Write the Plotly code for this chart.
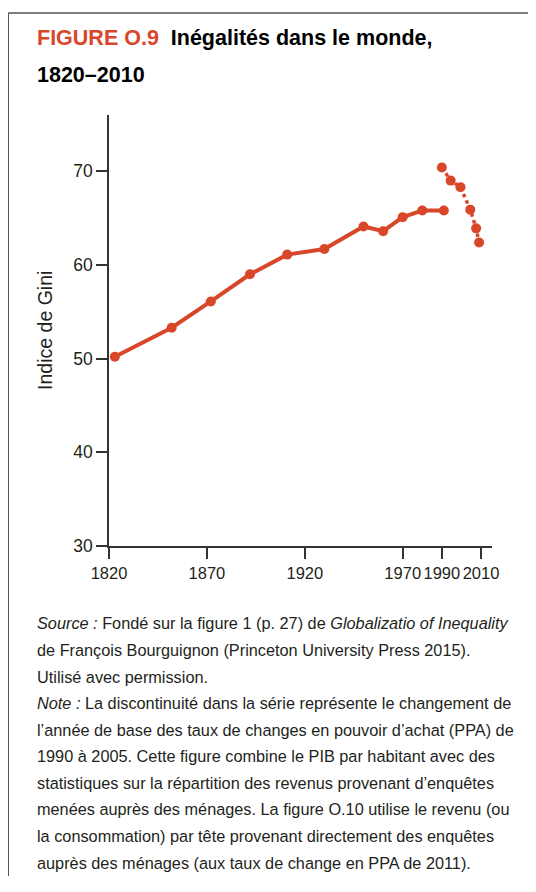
import plotly.graph_objects as go

# ---- data ----
years_a = [1823, 1852, 1872, 1892, 1911, 1930, 1950, 1960, 1970, 1980, 1991]
gini_a = [50.2, 53.3, 56.1, 59.0, 61.1, 61.7, 64.1, 63.6, 65.1, 65.8, 65.8]
years_b = [1990, 1994.5, 1999.5, 2004.5, 2007.5, 2009]
gini_b = [70.4, 69.0, 68.3, 65.9, 63.9, 62.4]
x_ticks = [1820, 1870, 1920, 1970, 1990, 2010]
y_ticks = [30, 40, 50, 60, 70]

title_red = "FIGURE O.9"
title_black_1 = "Inégalités dans le monde,"
title_black_2 = "1820–2010"
y_label = "Indice de Gini"
notes = [
    "<i>Source :</i> Fondé sur la figure 1 (p. 27) de <i>Globalizatio of Inequality</i>",
    "de François Bourguignon (Princeton University Press 2015).",
    "Utilisé avec permission.",
    "<i>Note :</i> La discontinuité dans la série représente le changement de",
    "l’année de base des taux de changes en pouvoir d’achat (PPA) de",
    "1990 à 2005. Cette figure combine le PIB par habitant avec des",
    "statistiques sur la répartition des revenus provenant d’enquêtes",
    "menées auprès des ménages. La figure O.10 utilise le revenu (ou",
    "la consommation) par tête provenant directement des enquêtes",
    "auprès des ménages (aux taux de change en PPA de 2011).",
]

RED = "#D9472B"
INK = "#231F20"
FONT = "Liberation Sans, Arial, sans-serif"

# page offset of the plotly div (body margin)
OFF = 8
W, H = 528, 868
# plot area in reference page pixels
L, R, T, B = 109.3 - OFF, 491.7 - OFF, 114.7 - OFF, 545.7 - OFF


def px(x):
    return (x - OFF - L) / (R - L)


def py(y):
    return (B - (y - OFF)) / (B - T)


fig = go.Figure()
fig.add_trace(go.Scatter(
    x=years_a, y=gini_a, mode="lines+markers",
    line=dict(color=RED, width=4), marker=dict(color=RED, size=10),
    hoverinfo="x+y", showlegend=False, cliponaxis=False,
))
fig.add_trace(go.Scatter(
    x=years_b, y=gini_b, mode="lines+markers",
    line=dict(color=RED, width=3.5, dash="dot"), marker=dict(color=RED, size=10),
    hoverinfo="x+y", showlegend=False, cliponaxis=False,
))

annotations = [
    dict(text=f"<span style='color:{RED}'>{title_red}</span>  {title_black_1}",
         x=px(35), y=py(38), xanchor="left", yanchor="middle",
         font=dict(size=21.5, color="#000000", weight="bold")),
    dict(text=title_black_2,
         x=px(35), y=py(75), xanchor="left", yanchor="middle",
         font=dict(size=21.5, color="#000000", weight="bold")),
    dict(text=y_label, x=px(46), y=py(330), xanchor="center", yanchor="middle",
         textangle=-90, font=dict(size=19.5, color=INK)),
]
for i, line in enumerate(notes):
    annotations.append(dict(
        text=line, x=px(35), y=py(623 + i * 26.6), xanchor="left", yanchor="middle",
        font=dict(size=16.3, color=INK),
    ))

for a in annotations:
    a["font"]["family"] = FONT
    a.update(showarrow=False, xref="paper", yref="paper")

fig.update_layout(
    width=W, height=H, autosize=False,
    margin=dict(l=L, r=W - R, t=T, b=H - B, pad=0),
    paper_bgcolor="white", plot_bgcolor="white",
    font=dict(family=FONT, color=INK),
    annotations=annotations,
    shapes=[
        dict(type="line", xref="paper", yref="paper", x0=px(8.7), x1=px(560),
             y0=py(12.7), y1=py(12.7), line=dict(color="#555555", width=1.5)),
        dict(type="line", xref="paper", yref="paper", x0=px(8.7), x1=px(8.7),
             y0=py(12.7), y1=py(920), line=dict(color="#555555", width=1.5)),
    ],
    xaxis=dict(range=[1820, 2015.6], tickvals=x_ticks, ticktext=[str(v) for v in x_ticks],
               tickangle=0, showgrid=False, zeroline=False, showline=True,
               linecolor="#333333", linewidth=1.5, ticks="outside", ticklen=11,
               tickwidth=1.5, tickcolor="#333333",
               tickfont=dict(family=FONT, size=16.5, color=INK), fixedrange=True),
    yaxis=dict(range=[30, 76], tickvals=y_ticks, showgrid=False, zeroline=False,
               showline=True, linecolor="#333333", linewidth=1.5, ticks="outside",
               ticklen=11, tickwidth=1.5, tickcolor="#333333",
               tickfont=dict(family=FONT, size=17.5, color=INK), fixedrange=True),
)

fig.write_html("out.html")
